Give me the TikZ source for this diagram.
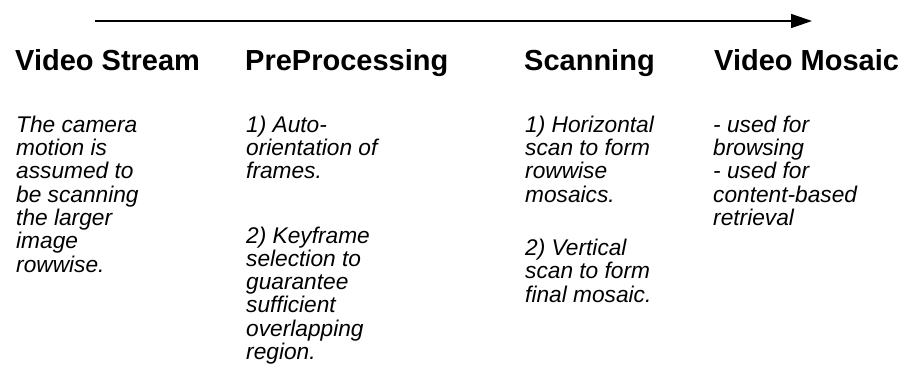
\documentclass[tikz,border=0pt]{standalone}
\usepackage{fontspec}
\setmainfont{Liberation Sans}
\usetikzlibrary{arrows.meta}
\newcommand{\colbody}[1]{\begin{tabular}[t]{@{}l@{}}#1\end{tabular}}
\begin{document}
\begin{tikzpicture}[x=1pt,y=-1pt,
  title/.style={anchor=base west,inner sep=0pt,font=\fontsize{29}{29}\selectfont\bfseries},
  body/.style={anchor=base west,inner sep=0pt,font=\fontsize{22.7}{23}\selectfont\itshape},
  flow/.style={line width=1.5pt,-{Triangle[length=21pt,width=14pt]}}]
\useasboundingbox (0,0) rectangle (903,373);
\coordinate (as) at (95,21);
\coordinate (ae) at (812,21);
\draw[flow] (as) -- (ae);
\node[title] (t1) at (15,70) {Video Stream};
\node[title] (t2) at (245,70) {PreProcessing};
\node[title] (t3) at (524,70) {Scanning};
\node[title] (t4) at (714,70) {Video Mosaic};
\node[body] (b1) at (16,132) {\colbody{The camera\\motion is\\assumed to\\be scanning\\the larger\\image\\rowwise.}};
\node[body] (b2) at (246,132) {\colbody{1) Auto-\\orientation of\\frames.\\[41pt]2) Keyframe\\selection to\\guarantee\\sufficient\\overlapping\\region.}};
\node[body] (b3) at (525,132) {\colbody{1) Horizontal\\scan to form\\rowwise\\mosaics.\\[30pt]2) Vertical\\scan to form\\final mosaic.}};
\node[body] (b4) at (713,132) {\colbody{- used for\\browsing\\- used for\\content-based\\retrieval}};
\end{tikzpicture}
\end{document}
